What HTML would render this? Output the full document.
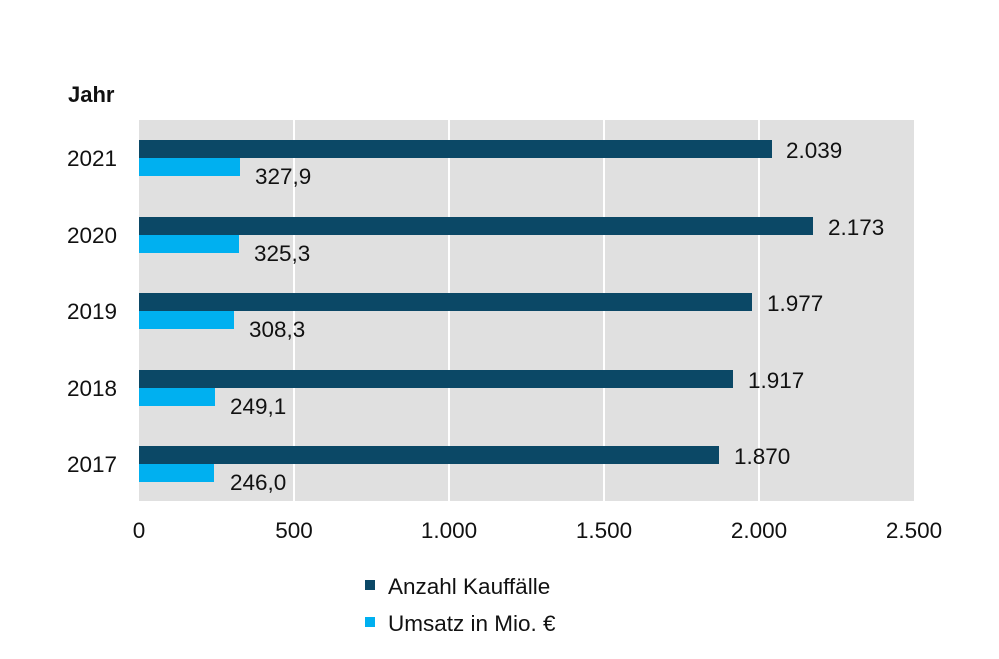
<!DOCTYPE html>
<html><head><meta charset="utf-8"><style>body{margin:0;background:#fff}svg{display:block;font-family:"Liberation Sans",Arial,sans-serif}</style></head>
<body>
<svg width="999" height="659" viewBox="0 0 999 659" xmlns="http://www.w3.org/2000/svg">
<rect x="139" y="120" width="775" height="381" fill="#e0e0e0"/>
<g stroke="#fff" stroke-width="2">
<line x1="294" y1="120" x2="294" y2="501"/><line x1="449" y1="120" x2="449" y2="501"/>
<line x1="604" y1="120" x2="604" y2="501"/><line x1="759" y1="120" x2="759" y2="501"/>
</g>
<g font-size="22.5" fill="#111">
<text x="68" y="102" font-weight="bold" font-size="22">Jahr</text>
<g text-anchor="end">
<text x="117" y="166">2021</text><text x="117" y="243">2020</text><text x="117" y="319">2019</text><text x="117" y="396">2018</text><text x="117" y="472">2017</text>
</g>
<g fill="#0b4866">
<rect x="139" y="140" width="633" height="18"/>
<rect x="139" y="217" width="674" height="18"/>
<rect x="139" y="293" width="613" height="18"/>
<rect x="139" y="370" width="594" height="18"/>
<rect x="139" y="446" width="580" height="18"/>
</g>
<g fill="#00b0f0">
<rect x="139" y="158" width="101" height="18"/>
<rect x="139" y="235" width="100" height="18"/>
<rect x="139" y="311" width="95" height="18"/>
<rect x="139" y="388" width="76" height="18"/>
<rect x="139" y="464" width="75" height="18"/>
</g>
<text x="786" y="158">2.039</text><text x="255" y="184">327,9</text>
<text x="828" y="235">2.173</text><text x="254" y="261">325,3</text>
<text x="767" y="311">1.977</text><text x="249" y="337">308,3</text>
<text x="748" y="388">1.917</text><text x="230" y="414">249,1</text>
<text x="734" y="464">1.870</text><text x="230" y="490">246,0</text>
<g text-anchor="middle">
<text x="139" y="538">0</text><text x="294" y="538">500</text><text x="449" y="538">1.000</text>
<text x="604" y="538">1.500</text><text x="759" y="538">2.000</text><text x="914" y="538">2.500</text>
</g>
<rect x="365" y="580" width="10" height="10" fill="#0b4866"/>
<text x="388" y="594">Anzahl Kauffälle</text>
<rect x="365" y="617" width="10" height="10" fill="#00b0f0"/>
<text x="388" y="631">Umsatz in Mio. €</text>
</g>
</svg>
</body></html>
